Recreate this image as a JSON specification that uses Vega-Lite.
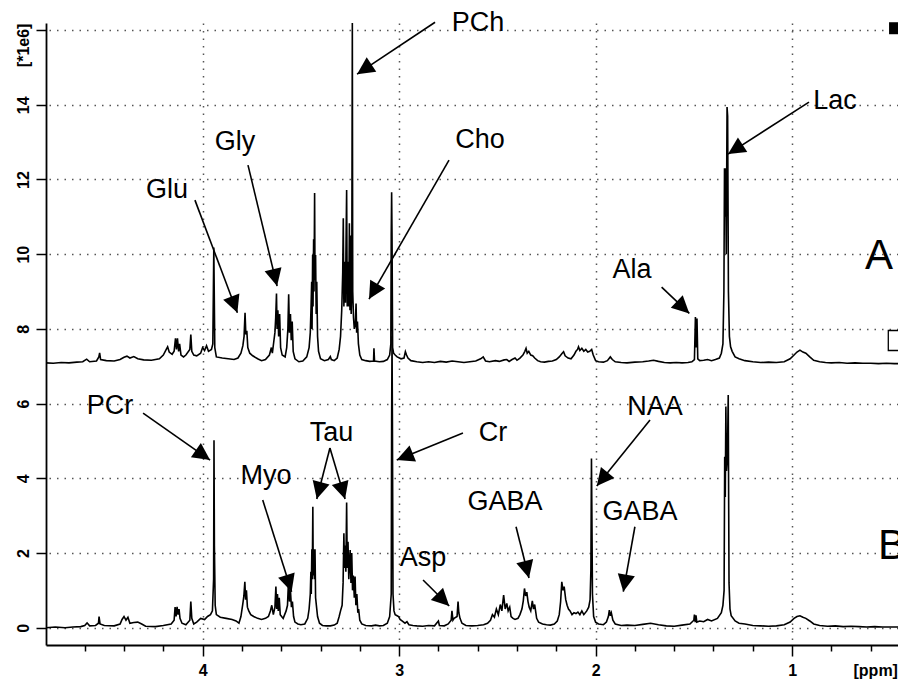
{
  "$schema": "https://vega.github.io/schema/vega-lite/v6.json",
  "width": 852,
  "height": 622,
  "autosize": {"type": "none"},
  "padding": {"left": 46, "top": 23, "right": 0, "bottom": 39},
  "background": "white",
  "config": {"view": {"stroke": null}, "font": "Liberation Sans"},
  "datasets": {
    "specA": [
      {"p":4.797,"v":7.09},{"p":4.76,"v":7.08},{"p":4.72,"v":7.10},{"p":4.68,"v":7.09},{"p":4.64,"v":7.11},{"p":4.61,"v":7.12},{"p":4.59,"v":7.19},{"p":4.575,"v":7.12},{"p":4.54,"v":7.14},{"p":4.528,"v":7.25},{"p":4.524,"v":7.36},{"p":4.519,"v":7.18},{"p":4.49,"v":7.15},{"p":4.45,"v":7.14},{"p":4.42,"v":7.18},{"p":4.40,"v":7.24},{"p":4.385,"v":7.27},{"p":4.37,"v":7.22},{"p":4.35,"v":7.26},{"p":4.33,"v":7.20},{"p":4.30,"v":7.17},{"p":4.26,"v":7.16},{"p":4.22,"v":7.20},{"p":4.20,"v":7.30},{"p":4.185,"v":7.45},{"p":4.178,"v":7.52},{"p":4.17,"v":7.38},{"p":4.155,"v":7.32},{"p":4.145,"v":7.40},{"p":4.138,"v":7.75},{"p":4.133,"v":7.45},{"p":4.128,"v":7.75},{"p":4.122,"v":7.40},{"p":4.117,"v":7.60},{"p":4.11,"v":7.30},{"p":4.097,"v":7.25},{"p":4.085,"v":7.30},{"p":4.065,"v":7.45},{"p":4.060,"v":7.85},{"p":4.055,"v":7.40},{"p":4.045,"v":7.30},{"p":4.030,"v":7.28},{"p":4.01,"v":7.35},{"p":4.00,"v":7.50},{"p":3.99,"v":7.42},{"p":3.98,"v":7.55},{"p":3.970,"v":7.40},{"p":3.955,"v":7.45},{"p":3.948,"v":7.60},{"p":3.945,"v":9.1},{"p":3.943,"v":10.18},{"p":3.941,"v":9.1},{"p":3.938,"v":7.5},{"p":3.93,"v":7.25},{"p":3.90,"v":7.22},{"p":3.87,"v":7.20},{"p":3.84,"v":7.18},{"p":3.82,"v":7.22},{"p":3.805,"v":7.35},{"p":3.795,"v":7.55},{"p":3.789,"v":7.80},{"p":3.784,"v":8.43},{"p":3.780,"v":7.85},{"p":3.775,"v":7.95},{"p":3.770,"v":7.50},{"p":3.76,"v":7.35},{"p":3.745,"v":7.28},{"p":3.72,"v":7.20},{"p":3.70,"v":7.15},{"p":3.68,"v":7.18},{"p":3.66,"v":7.30},{"p":3.650,"v":7.50},{"p":3.645,"v":7.35},{"p":3.638,"v":7.65},{"p":3.632,"v":7.90},{"p":3.628,"v":8.3},{"p":3.624,"v":8.95},{"p":3.621,"v":8.0},{"p":3.617,"v":8.5},{"p":3.613,"v":7.8},{"p":3.608,"v":8.4},{"p":3.603,"v":7.5},{"p":3.595,"v":7.3},{"p":3.58,"v":7.25},{"p":3.572,"v":7.50},{"p":3.566,"v":8.0},{"p":3.562,"v":8.93},{"p":3.558,"v":7.9},{"p":3.553,"v":8.4},{"p":3.549,"v":7.7},{"p":3.544,"v":8.2},{"p":3.539,"v":7.4},{"p":3.53,"v":7.20},{"p":3.51,"v":7.12},{"p":3.49,"v":7.14},{"p":3.47,"v":7.25},{"p":3.458,"v":7.50},{"p":3.452,"v":7.90},{"p":3.448,"v":8.6},{"p":3.445,"v":9.26},{"p":3.443,"v":8.0},{"p":3.440,"v":9.98},{"p":3.438,"v":8.6},{"p":3.435,"v":10.4},{"p":3.433,"v":9.0},{"p":3.430,"v":11.64},{"p":3.428,"v":9.3},{"p":3.425,"v":9.98},{"p":3.422,"v":8.4},{"p":3.419,"v":9.26},{"p":3.415,"v":7.8},{"p":3.41,"v":7.40},{"p":3.40,"v":7.20},{"p":3.38,"v":7.15},{"p":3.36,"v":7.18},{"p":3.35,"v":7.26},{"p":3.345,"v":7.18},{"p":3.33,"v":7.15},{"p":3.315,"v":7.22},{"p":3.305,"v":7.45},{"p":3.298,"v":7.8},{"p":3.292,"v":8.5},{"p":3.287,"v":9.5},{"p":3.284,"v":10.96},{"p":3.281,"v":8.6},{"p":3.277,"v":9.8},{"p":3.273,"v":8.7},{"p":3.270,"v":10.3},{"p":3.267,"v":11.72},{"p":3.264,"v":8.6},{"p":3.260,"v":9.8},{"p":3.256,"v":8.6},{"p":3.253,"v":10.83},{"p":3.250,"v":8.5},{"p":3.247,"v":10.5},{"p":3.244,"v":8.4},{"p":3.241,"v":9.0},{"p":3.238,"v":16.22},{"p":3.236,"v":9.0},{"p":3.232,"v":8.3},{"p":3.228,"v":8.0},{"p":3.223,"v":8.1},{"p":3.219,"v":8.68},{"p":3.216,"v":7.9},{"p":3.212,"v":8.2},{"p":3.207,"v":7.6},{"p":3.200,"v":7.30},{"p":3.19,"v":7.18},{"p":3.17,"v":7.15},{"p":3.15,"v":7.13},{"p":3.13,"v":7.14},{"p":3.128,"v":7.48},{"p":3.125,"v":7.14},{"p":3.10,"v":7.12},{"p":3.08,"v":7.13},{"p":3.06,"v":7.18},{"p":3.048,"v":7.30},{"p":3.042,"v":7.6},{"p":3.040,"v":10.5},{"p":3.038,"v":11.66},{"p":3.036,"v":10.5},{"p":3.033,"v":7.5},{"p":3.028,"v":7.35},{"p":3.02,"v":7.30},{"p":3.01,"v":7.25},{"p":2.99,"v":7.20},{"p":2.975,"v":7.22},{"p":2.968,"v":7.39},{"p":2.962,"v":7.30},{"p":2.955,"v":7.22},{"p":2.94,"v":7.15},{"p":2.91,"v":7.12},{"p":2.88,"v":7.10},{"p":2.85,"v":7.12},{"p":2.82,"v":7.10},{"p":2.79,"v":7.13},{"p":2.76,"v":7.11},{"p":2.73,"v":7.14},{"p":2.70,"v":7.12},{"p":2.67,"v":7.10},{"p":2.64,"v":7.12},{"p":2.61,"v":7.14},{"p":2.585,"v":7.20},{"p":2.572,"v":7.25},{"p":2.56,"v":7.14},{"p":2.54,"v":7.12},{"p":2.51,"v":7.15},{"p":2.49,"v":7.13},{"p":2.465,"v":7.17},{"p":2.452,"v":7.18},{"p":2.44,"v":7.13},{"p":2.425,"v":7.18},{"p":2.410,"v":7.22},{"p":2.40,"v":7.16},{"p":2.385,"v":7.22},{"p":2.37,"v":7.30},{"p":2.360,"v":7.40},{"p":2.354,"v":7.48},{"p":2.348,"v":7.35},{"p":2.340,"v":7.40},{"p":2.330,"v":7.30},{"p":2.320,"v":7.28},{"p":2.31,"v":7.22},{"p":2.295,"v":7.15},{"p":2.28,"v":7.12},{"p":2.26,"v":7.11},{"p":2.24,"v":7.13},{"p":2.22,"v":7.14},{"p":2.20,"v":7.18},{"p":2.185,"v":7.25},{"p":2.170,"v":7.35},{"p":2.163,"v":7.39},{"p":2.155,"v":7.28},{"p":2.14,"v":7.22},{"p":2.125,"v":7.20},{"p":2.11,"v":7.30},{"p":2.100,"v":7.40},{"p":2.092,"v":7.45},{"p":2.087,"v":7.52},{"p":2.080,"v":7.42},{"p":2.070,"v":7.48},{"p":2.060,"v":7.40},{"p":2.050,"v":7.45},{"p":2.040,"v":7.38},{"p":2.030,"v":7.40},{"p":2.020,"v":7.45},{"p":2.012,"v":7.30},{"p":2.00,"v":7.15},{"p":1.985,"v":7.12},{"p":1.96,"v":7.11},{"p":1.94,"v":7.15},{"p":1.925,"v":7.25},{"p":1.915,"v":7.18},{"p":1.90,"v":7.12},{"p":1.87,"v":7.10},{"p":1.84,"v":7.09},{"p":1.80,"v":7.11},{"p":1.76,"v":7.12},{"p":1.73,"v":7.14},{"p":1.705,"v":7.16},{"p":1.68,"v":7.13},{"p":1.65,"v":7.10},{"p":1.62,"v":7.09},{"p":1.59,"v":7.10},{"p":1.56,"v":7.09},{"p":1.53,"v":7.10},{"p":1.51,"v":7.12},{"p":1.497,"v":7.18},{"p":1.492,"v":8.32},{"p":1.488,"v":7.5},{"p":1.484,"v":8.28},{"p":1.480,"v":7.2},{"p":1.47,"v":7.15},{"p":1.45,"v":7.16},{"p":1.43,"v":7.18},{"p":1.41,"v":7.15},{"p":1.39,"v":7.18},{"p":1.37,"v":7.22},{"p":1.36,"v":7.35},{"p":1.352,"v":7.6},{"p":1.347,"v":9.0},{"p":1.344,"v":12.3},{"p":1.341,"v":11.0},{"p":1.338,"v":12.3},{"p":1.335,"v":10.0},{"p":1.331,"v":13.94},{"p":1.328,"v":13.7},{"p":1.324,"v":9.0},{"p":1.319,"v":7.8},{"p":1.313,"v":7.52},{"p":1.305,"v":7.40},{"p":1.29,"v":7.25},{"p":1.27,"v":7.20},{"p":1.24,"v":7.15},{"p":1.20,"v":7.12},{"p":1.16,"v":7.10},{"p":1.12,"v":7.11},{"p":1.08,"v":7.10},{"p":1.04,"v":7.12},{"p":1.01,"v":7.20},{"p":0.99,"v":7.30},{"p":0.975,"v":7.38},{"p":0.960,"v":7.43},{"p":0.945,"v":7.38},{"p":0.93,"v":7.35},{"p":0.91,"v":7.25},{"p":0.89,"v":7.16},{"p":0.86,"v":7.12},{"p":0.83,"v":7.10},{"p":0.80,"v":7.09},{"p":0.76,"v":7.10},{"p":0.72,"v":7.08},{"p":0.68,"v":7.09},{"p":0.64,"v":7.08},{"p":0.60,"v":7.08},{"p":0.56,"v":7.07},{"p":0.52,"v":7.08},{"p":0.48,"v":7.07},{"p":0.46,"v":7.07}
    ],
    "specB": [
      {"p":4.797,"v":0.00},{"p":4.75,"v":0.02},{"p":4.70,"v":0.00},{"p":4.66,"v":0.02},{"p":4.62,"v":0.03},{"p":4.60,"v":0.06},{"p":4.588,"v":0.13},{"p":4.575,"v":0.05},{"p":4.545,"v":0.06},{"p":4.530,"v":0.12},{"p":4.527,"v":0.30},{"p":4.522,"v":0.10},{"p":4.50,"v":0.06},{"p":4.45,"v":0.05},{"p":4.42,"v":0.10},{"p":4.41,"v":0.22},{"p":4.40,"v":0.30},{"p":4.39,"v":0.20},{"p":4.38,"v":0.28},{"p":4.37,"v":0.12},{"p":4.35,"v":0.14},{"p":4.33,"v":0.15},{"p":4.31,"v":0.10},{"p":4.29,"v":0.04},{"p":4.24,"v":0.03},{"p":4.20,"v":0.06},{"p":4.16,"v":0.10},{"p":4.145,"v":0.20},{"p":4.140,"v":0.55},{"p":4.135,"v":0.30},{"p":4.130,"v":0.56},{"p":4.125,"v":0.35},{"p":4.120,"v":0.50},{"p":4.115,"v":0.25},{"p":4.105,"v":0.12},{"p":4.085,"v":0.08},{"p":4.065,"v":0.20},{"p":4.060,"v":0.70},{"p":4.055,"v":0.25},{"p":4.045,"v":0.10},{"p":4.03,"v":0.15},{"p":4.01,"v":0.25},{"p":3.99,"v":0.22},{"p":3.975,"v":0.30},{"p":3.960,"v":0.35},{"p":3.950,"v":0.45},{"p":3.944,"v":1.3},{"p":3.942,"v":5.02},{"p":3.940,"v":2.2},{"p":3.936,"v":0.6},{"p":3.93,"v":0.35},{"p":3.91,"v":0.28},{"p":3.88,"v":0.25},{"p":3.85,"v":0.22},{"p":3.83,"v":0.18},{"p":3.815,"v":0.12},{"p":3.805,"v":0.30},{"p":3.795,"v":0.65},{"p":3.790,"v":0.85},{"p":3.785,"v":1.23},{"p":3.781,"v":0.75},{"p":3.777,"v":1.0},{"p":3.772,"v":0.55},{"p":3.765,"v":0.45},{"p":3.755,"v":0.35},{"p":3.74,"v":0.30},{"p":3.72,"v":0.25},{"p":3.70,"v":0.22},{"p":3.68,"v":0.25},{"p":3.665,"v":0.30},{"p":3.655,"v":0.45},{"p":3.648,"v":0.60},{"p":3.640,"v":0.35},{"p":3.632,"v":0.55},{"p":3.627,"v":1.10},{"p":3.623,"v":0.50},{"p":3.619,"v":0.90},{"p":3.615,"v":0.45},{"p":3.610,"v":0.80},{"p":3.605,"v":0.35},{"p":3.598,"v":0.30},{"p":3.59,"v":0.25},{"p":3.575,"v":0.45},{"p":3.568,"v":0.60},{"p":3.562,"v":1.37},{"p":3.558,"v":0.70},{"p":3.553,"v":1.00},{"p":3.548,"v":0.55},{"p":3.543,"v":0.70},{"p":3.537,"v":0.30},{"p":3.53,"v":0.15},{"p":3.515,"v":0.10},{"p":3.50,"v":0.08},{"p":3.48,"v":0.10},{"p":3.465,"v":0.25},{"p":3.458,"v":0.50},{"p":3.452,"v":0.9},{"p":3.449,"v":1.5},{"p":3.447,"v":0.9},{"p":3.444,"v":2.1},{"p":3.442,"v":1.3},{"p":3.439,"v":3.24},{"p":3.437,"v":1.4},{"p":3.434,"v":2.1},{"p":3.431,"v":1.3},{"p":3.428,"v":2.1},{"p":3.425,"v":0.8},{"p":3.421,"v":0.6},{"p":3.415,"v":0.3},{"p":3.405,"v":0.12},{"p":3.39,"v":0.06},{"p":3.37,"v":0.05},{"p":3.35,"v":0.05},{"p":3.33,"v":0.07},{"p":3.315,"v":0.12},{"p":3.305,"v":0.30},{"p":3.298,"v":0.45},{"p":3.290,"v":0.6},{"p":3.285,"v":1.2},{"p":3.281,"v":2.53},{"p":3.278,"v":1.6},{"p":3.274,"v":2.2},{"p":3.271,"v":1.5},{"p":3.267,"v":3.35},{"p":3.264,"v":1.6},{"p":3.260,"v":2.3},{"p":3.256,"v":1.3},{"p":3.252,"v":1.8},{"p":3.249,"v":2.08},{"p":3.245,"v":1.2},{"p":3.241,"v":2.0},{"p":3.237,"v":1.0},{"p":3.233,"v":1.4},{"p":3.228,"v":0.8},{"p":3.224,"v":1.37},{"p":3.220,"v":0.6},{"p":3.215,"v":0.9},{"p":3.210,"v":0.4},{"p":3.206,"v":0.5},{"p":3.200,"v":0.2},{"p":3.19,"v":0.10},{"p":3.17,"v":0.06},{"p":3.14,"v":0.05},{"p":3.12,"v":0.07},{"p":3.10,"v":0.05},{"p":3.08,"v":0.06},{"p":3.06,"v":0.12},{"p":3.048,"v":0.3},{"p":3.040,"v":0.9},{"p":3.038,"v":5.51},{"p":3.036,"v":7.8},{"p":3.034,"v":5.51},{"p":3.031,"v":0.9},{"p":3.026,"v":0.45},{"p":3.02,"v":0.35},{"p":3.010,"v":0.32},{"p":3.003,"v":0.30},{"p":2.995,"v":0.22},{"p":2.985,"v":0.18},{"p":2.970,"v":0.12},{"p":2.960,"v":0.16},{"p":2.950,"v":0.08},{"p":2.93,"v":0.06},{"p":2.91,"v":0.05},{"p":2.88,"v":0.04},{"p":2.85,"v":0.06},{"p":2.82,"v":0.05},{"p":2.80,"v":0.18},{"p":2.795,"v":0.06},{"p":2.77,"v":0.05},{"p":2.75,"v":0.10},{"p":2.735,"v":0.2},{"p":2.731,"v":0.45},{"p":2.726,"v":0.2},{"p":2.72,"v":0.25},{"p":2.705,"v":0.3},{"p":2.700,"v":0.70},{"p":2.696,"v":0.40},{"p":2.690,"v":0.25},{"p":2.68,"v":0.12},{"p":2.66,"v":0.06},{"p":2.63,"v":0.05},{"p":2.60,"v":0.06},{"p":2.57,"v":0.08},{"p":2.55,"v":0.12},{"p":2.535,"v":0.20},{"p":2.525,"v":0.35},{"p":2.515,"v":0.28},{"p":2.505,"v":0.50},{"p":2.495,"v":0.35},{"p":2.485,"v":0.62},{"p":2.477,"v":0.45},{"p":2.468,"v":0.87},{"p":2.460,"v":0.50},{"p":2.452,"v":0.65},{"p":2.445,"v":0.45},{"p":2.437,"v":0.55},{"p":2.430,"v":0.30},{"p":2.42,"v":0.25},{"p":2.41,"v":0.22},{"p":2.395,"v":0.25},{"p":2.385,"v":0.35},{"p":2.375,"v":0.50},{"p":2.368,"v":0.72},{"p":2.362,"v":1.05},{"p":2.356,"v":0.85},{"p":2.350,"v":0.95},{"p":2.344,"v":0.70},{"p":2.338,"v":0.55},{"p":2.330,"v":0.45},{"p":2.322,"v":0.72},{"p":2.316,"v":0.5},{"p":2.310,"v":0.62},{"p":2.300,"v":0.25},{"p":2.29,"v":0.15},{"p":2.27,"v":0.10},{"p":2.25,"v":0.08},{"p":2.23,"v":0.07},{"p":2.21,"v":0.10},{"p":2.195,"v":0.18},{"p":2.185,"v":0.35},{"p":2.178,"v":0.70},{"p":2.172,"v":1.23},{"p":2.166,"v":1.0},{"p":2.160,"v":1.1},{"p":2.152,"v":0.75},{"p":2.145,"v":0.60},{"p":2.138,"v":0.5},{"p":2.130,"v":0.45},{"p":2.120,"v":0.35},{"p":2.110,"v":0.40},{"p":2.100,"v":0.38},{"p":2.090,"v":0.42},{"p":2.080,"v":0.35},{"p":2.070,"v":0.45},{"p":2.060,"v":0.35},{"p":2.045,"v":0.45},{"p":2.035,"v":0.55},{"p":2.028,"v":0.75},{"p":2.024,"v":1.54},{"p":2.021,"v":4.53},{"p":2.019,"v":3.15},{"p":2.016,"v":0.9},{"p":2.010,"v":0.3},{"p":2.00,"v":0.15},{"p":1.985,"v":0.10},{"p":1.96,"v":0.08},{"p":1.945,"v":0.15},{"p":1.935,"v":0.30},{"p":1.930,"v":0.47},{"p":1.925,"v":0.32},{"p":1.920,"v":0.40},{"p":1.912,"v":0.20},{"p":1.90,"v":0.10},{"p":1.87,"v":0.06},{"p":1.84,"v":0.07},{"p":1.80,"v":0.06},{"p":1.76,"v":0.09},{"p":1.72,"v":0.12},{"p":1.68,"v":0.08},{"p":1.64,"v":0.05},{"p":1.60,"v":0.04},{"p":1.56,"v":0.07},{"p":1.52,"v":0.10},{"p":1.50,"v":0.20},{"p":1.497,"v":0.35},{"p":1.493,"v":0.15},{"p":1.489,"v":0.33},{"p":1.485,"v":0.15},{"p":1.47,"v":0.18},{"p":1.45,"v":0.16},{"p":1.43,"v":0.22},{"p":1.41,"v":0.18},{"p":1.38,"v":0.25},{"p":1.36,"v":0.40},{"p":1.352,"v":0.6},{"p":1.346,"v":1.0},{"p":1.343,"v":4.58},{"p":1.340,"v":3.5},{"p":1.337,"v":5.92},{"p":1.334,"v":4.2},{"p":1.329,"v":4.58},{"p":1.325,"v":6.23},{"p":1.321,"v":1.2},{"p":1.316,"v":0.5},{"p":1.31,"v":0.32},{"p":1.29,"v":0.18},{"p":1.27,"v":0.12},{"p":1.24,"v":0.10},{"p":1.20,"v":0.06},{"p":1.16,"v":0.05},{"p":1.12,"v":0.04},{"p":1.08,"v":0.05},{"p":1.04,"v":0.08},{"p":1.01,"v":0.15},{"p":0.99,"v":0.25},{"p":0.975,"v":0.30},{"p":0.960,"v":0.32},{"p":0.945,"v":0.28},{"p":0.930,"v":0.25},{"p":0.91,"v":0.18},{"p":0.89,"v":0.10},{"p":0.86,"v":0.06},{"p":0.82,"v":0.04},{"p":0.78,"v":0.05},{"p":0.74,"v":0.03},{"p":0.70,"v":0.04},{"p":0.66,"v":0.03},{"p":0.62,"v":0.02},{"p":0.58,"v":0.03},{"p":0.54,"v":0.02},{"p":0.50,"v":0.02},{"p":0.46,"v":0.02}
    ],
    "labels": [
      {"t":"PCh","x":2.599,"y":16.19},{"t":"Lac","x":0.782,"y":14.10},{"t":"Gly","x":3.835,"y":13.00},{"t":"Glu","x":4.181,"y":11.716},{"t":"Cho","x":2.588,"y":13.054},{"t":"Ala","x":1.815,"y":9.574},{"t":"PCr","x":4.471,"y":5.934},{"t":"Myo","x":3.677,"y":4.06},{"t":"Tau","x":3.344,"y":5.211},{"t":"Cr","x":2.522,"y":5.211},{"t":"Asp","x":2.878,"y":1.866},{"t":"GABA","x":2.461,"y":3.373},{"t":"NAA","x":1.698,"y":5.915},{"t":"GABA","x":1.774,"y":3.105}
    ],
    "arrows": [
      {"x1":2.817,"y1":16.21,"x2":3.214,"y2":14.82},{"x1":0.914,"y1":14.07,"x2":1.326,"y2":12.68},{"x1":3.769,"y1":12.385,"x2":3.621,"y2":9.146},{"x1":4.039,"y1":11.448,"x2":3.823,"y2":8.431},{"x1":2.746,"y1":12.519,"x2":3.153,"y2":8.798},{"x1":1.664,"y1":9.119,"x2":1.523,"y2":8.415},{"x1":4.303,"y1":5.747,"x2":3.962,"y2":4.489},{"x1":3.694,"y1":3.418,"x2":3.547,"y2":0.964},{"x1":3.352,"y1":4.81,"x2":3.419,"y2":3.445},{"x1":3.352,"y1":4.81,"x2":3.275,"y2":3.445},{"x1":2.675,"y1":5.211,"x2":3.012,"y2":4.489},{"x1":2.878,"y1":1.277,"x2":2.745,"y2":0.581},{"x1":2.405,"y1":2.703,"x2":2.339,"y2":1.33},{"x1":1.723,"y1":5.559,"x2":1.994,"y2":3.793},{"x1":1.800,"y1":2.703,"x2":1.859,"y2":0.964}
    ],
    "panels": [{"t":"A","x":0.629,"y":9.949},{"t":"B","x":0.563,"y":2.187}],
    "markers": [{"k":"filled","x":0.476,"y":16.05},{"k":"open","x":0.4595,"y":7.69}]
  },
  "layer": [
    {
      "data": {"name": "specA"},
      "mark": {"type": "line", "color": "black", "strokeWidth": 1.6, "clip": true},
      "encoding": {
        "x": {
          "field": "p", "type": "quantitative",
          "scale": {"domain": [0.461, 4.797], "reverse": true, "nice": false, "zero": false},
          "axis": {
            "values": [0.6,0.8,1,1.2,1.4,1.6,1.8,2,2.2,2.4,2.6,2.8,3,3.2,3.4,3.6,3.8,4,4.2,4.4,4.6],
            "title": "[ppm]", "titleX": 807, "titleY": 25, "titleAlign": "left", "titleBaseline": "middle", "titleAnchor": "start",
            "titleFontSize": 16, "titleFontWeight": "bold", "titleFont": "Liberation Sans", "titleColor": "black",
            "labelExpr": "abs(datum.value - round(datum.value)) < 0.01 ? '' + round(datum.value) : ''",
            "labelFontSize": 16, "labelFontWeight": "bold", "labelFont": "Liberation Sans", "labelColor": "black",
            "labelFlush": false, "labelOverlap": false, "labelPadding": 6,
            "tickSize": {"condition": {"test": "abs(datum.value - round(datum.value)) < 0.01", "value": 11}, "value": 6},
            "tickColor": "black", "tickWidth": 1.5, "domainColor": "black", "domainWidth": 1.8,
            "grid": true, "gridColor": "#555", "gridDash": [1.5, 6], "gridWidth": 1.5,
            "gridOpacity": {"condition": {"test": "abs(datum.value - round(datum.value)) < 0.01", "value": 1}, "value": 0}
          }
        },
        "y": {
          "field": "v", "type": "quantitative",
          "scale": {"domain": [-0.463, 16.19], "nice": false, "zero": false},
          "axis": {
            "values": [0,0.5,1,1.5,2,2.5,3,3.5,4,4.5,5,5.5,6,6.5,7,7.5,8,8.5,9,9.5,10,10.5,11,11.5,12,12.5,13,13.5,14,14.5,15,15.5,16],
            "title": null,
            "labelExpr": "datum.value == 16 ? '[*1e6]' : (datum.value % 2 == 0 ? '' + datum.value : '')",
            "labelAngle": 270,
            "labelAlign": {"condition": {"test": "datum.value == 16", "value": "right"}, "value": "center"},
            "labelBaseline": "bottom",
            "labelOffset": {"condition": {"test": "datum.value == 16", "value": -7}, "value": 0},
            "labelFontSize": 16, "labelFontWeight": "bold", "labelFont": "Liberation Sans", "labelColor": "black",
            "labelFlush": false, "labelOverlap": false, "labelPadding": 5,
            "tickSize": {"condition": {"test": "datum.value % 2 == 0", "value": 10}, "value": 6},
            "tickColor": "black", "tickWidth": 1.5, "domainColor": "black", "domainWidth": 1.8,
            "grid": true, "gridColor": "#555", "gridDash": [1.5, 6], "gridWidth": 1.5,
            "gridOpacity": {"condition": {"test": "datum.value % 2 == 0", "value": 1}, "value": 0}
          }
        }
      }
    },
    {
      "data": {"name": "specB"},
      "mark": {"type": "line", "color": "black", "strokeWidth": 1.6, "clip": true},
      "encoding": {
        "x": {"field": "p", "type": "quantitative"},
        "y": {"field": "v", "type": "quantitative"}
      }
    },
    {
      "data": {"name": "arrows"},
      "mark": {"type": "rule", "color": "black", "strokeWidth": 1.6},
      "encoding": {
        "x": {"field": "x1", "type": "quantitative"},
        "y": {"field": "y1", "type": "quantitative"},
        "x2": {"field": "x2"},
        "y2": {"field": "y2"}
      }
    },
    {
      "data": {"name": "arrows"},
      "mark": {
        "type": "point", "shape": "M0,0L-0.5,1L0.5,1Z", "filled": true, "color": "black", "opacity": 1, "size": 1200, "strokeWidth": 0,
        "angle": {"expr": "atan2(scale('x', datum.x2) - scale('x', datum.x1), scale('y', datum.y1) - scale('y', datum.y2)) * 180 / PI"}
      },
      "encoding": {
        "x": {"field": "x2", "type": "quantitative"},
        "y": {"field": "y2", "type": "quantitative"}
      }
    },
    {
      "data": {"name": "labels"},
      "mark": {"type": "text", "font": "Liberation Sans", "fontSize": 27, "color": "black", "align": "center", "baseline": "middle"},
      "encoding": {
        "x": {"field": "x", "type": "quantitative"},
        "y": {"field": "y", "type": "quantitative"},
        "text": {"field": "t"}
      }
    },
    {
      "data": {"name": "panels"},
      "mark": {"type": "text", "font": "Liberation Sans", "fontSize": 42, "color": "black", "align": "left", "baseline": "middle"},
      "encoding": {
        "x": {"field": "x", "type": "quantitative"},
        "y": {"field": "y", "type": "quantitative"},
        "text": {"field": "t"}
      }
    },
    {
      "data": {"name": "markers"},
      "transform": [{"filter": "datum.k == 'filled'"}],
      "mark": {"type": "point", "shape": "square", "filled": true, "color": "black", "opacity": 1, "size": 144},
      "encoding": {
        "x": {"field": "x", "type": "quantitative"},
        "y": {"field": "y", "type": "quantitative"}
      }
    },
    {
      "data": {"name": "markers"},
      "transform": [{"filter": "datum.k == 'open'"}],
      "mark": {"type": "point", "shape": "square", "filled": false, "color": "black", "opacity": 1, "size": 400, "strokeWidth": 1.3},
      "encoding": {
        "x": {"field": "x", "type": "quantitative"},
        "y": {"field": "y", "type": "quantitative"}
      }
    }
  ]
}
